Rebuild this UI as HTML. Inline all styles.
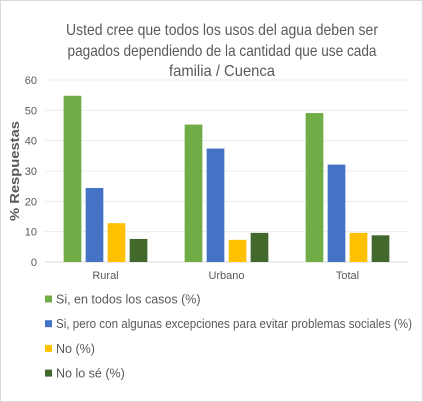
<!DOCTYPE html>
<html><head><meta charset="utf-8"><style>
html,body{margin:0;padding:0;background:#fff;}
svg{display:block;font-family:"Liberation Sans",sans-serif;}
</style></head><body>
<svg id="chart" width="423" height="402" viewBox="0 0 423 402">
<rect x="0.5" y="0.5" width="422" height="401" fill="#fff" stroke="#d9d9d9"/>
<g font-size="16" fill="#595959" text-anchor="middle">
<text x="222" y="35" textLength="312" lengthAdjust="spacingAndGlyphs">Usted cree que todos los usos del agua deben ser</text>
<text x="222" y="56" textLength="309" lengthAdjust="spacingAndGlyphs">pagados dependiendo de la cantidad que use cada</text>
<text x="222" y="76" textLength="106" lengthAdjust="spacingAndGlyphs">familia / Cuenca</text>
</g>
<g id="grid"></g><g id="bars"></g><g id="axes"></g><g id="legend"></g>
<text x="19" y="171" transform="rotate(-90 19 171)" text-anchor="middle" font-size="13" font-weight="bold" fill="#595959" textLength="100" lengthAdjust="spacingAndGlyphs">% Respuestas</text>
</svg>
<script>
const categories = ["Rural","Urbano","Total"];
const seriesNames = ["Si, en todos los casos (%)","Si, pero con algunas excepciones para evitar problemas sociales (%)","No (%)","No lo sé (%)"];
const siTodos = [54.8,45.3,49.1];
const siExcepciones = [24.4,37.4,32.1];
const noVals = [12.8,7.3,9.6];
const noSe = [7.6,9.6,8.8];
const yTicks = [0,10,20,30,40,50,60];
const series = [siTodos, siExcepciones, noVals, noSe];
const colors = ["#70ad47","#4472c4","#ffc000","#43682b"];
const NS="http://www.w3.org/2000/svg";
const x0=45,x1=408,yTop=80,yBot=262,yMax=60;
const y=v=>yBot-(v/yMax)*(yBot-yTop);
const gw=(x1-x0)/categories.length;
function mk(tag,attrs,parent){const e=document.createElementNS(NS,tag);for(const k in attrs)e.setAttribute(k,attrs[k]);parent.appendChild(e);return e;}
const grid=document.getElementById('grid'),bars=document.getElementById('bars'),axes=document.getElementById('axes'),legend=document.getElementById('legend');
yTicks.forEach(t=>{
  const l=mk('line',{x1:x0,x2:x1,y1:y(t),y2:y(t),stroke:t===0?'#d9d9d9':'#ececec','stroke-width':1},grid);
  
  
  const tx=mk('text',{x:37,y:y(t)+4,'text-anchor':'end','font-size':11,fill:'#595959'},axes);
  tx.textContent=t;
  
  
});
const bw=17.7,step=22;
categories.forEach((c,i)=>{
  const cx=x0+gw*(i+0.5);
  series.forEach((s,j)=>{
    const bx=cx+(j-1.5)*step-bw/2;
    const r=mk('rect',{x:bx,y:y(s[i]),width:bw,height:yBot-y(s[i]),fill:colors[j]},bars);
    
    
  });
  const tx=mk('text',{x:cx,y:279,'text-anchor':'middle','font-size':11,fill:'#595959'},axes);
  tx.textContent=c;
  
  
});
seriesNames.forEach((n,j)=>{
  const ly=299+j*24.7;
  const g=mk('g',{},legend);
  
  
  mk('rect',{x:45,y:ly-3.5,width:7,height:7,fill:colors[j]},g);
  const t=mk('text',{x:56,y:ly+4.5,'font-size':12.5,fill:'#595959'},g);
  t.textContent=n;
  if(j===1){t.setAttribute('textLength',356);t.setAttribute('lengthAdjust','spacingAndGlyphs');}
});
</script>
</body></html>
